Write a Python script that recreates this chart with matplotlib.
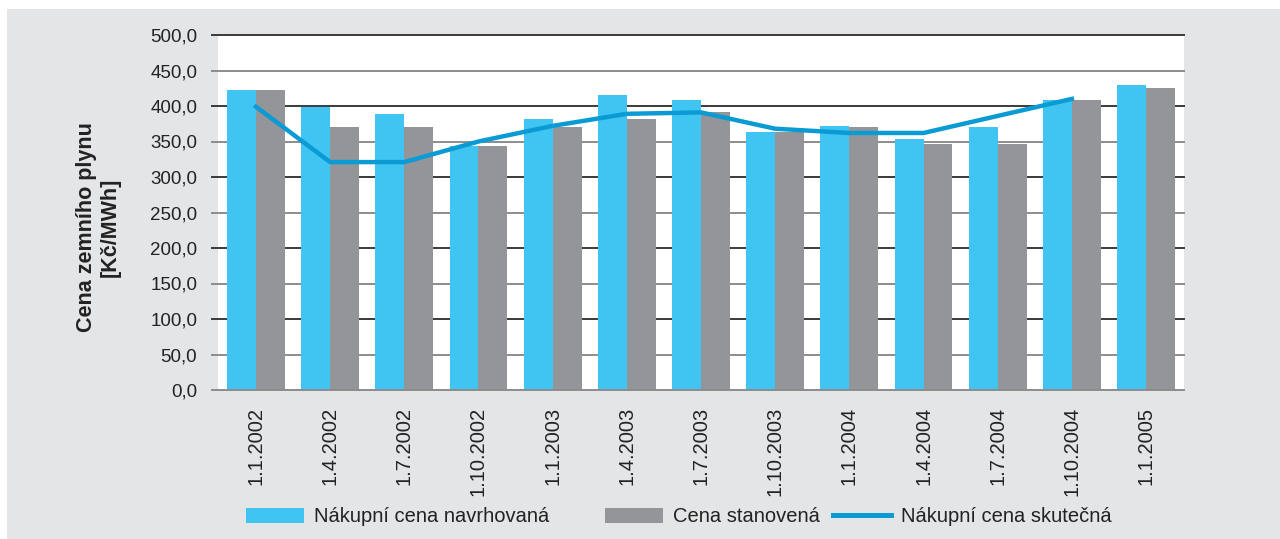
import matplotlib.pyplot as plt
import numpy as np
from matplotlib.lines import Line2D
from matplotlib.patches import Patch, Rectangle

plt.rcParams["font.family"] = ["Liberation Sans", "DejaVu Sans"]

# data
dates = ["1.1.2002", "1.4.2002", "1.7.2002", "1.10.2002", "1.1.2003", "1.4.2003",
         "1.7.2003", "1.10.2003", "1.1.2004", "1.4.2004", "1.7.2004", "1.10.2004",
         "1.1.2005"]
navrhovana = [422, 398, 389, 344, 381, 416, 408, 363, 372, 354, 371, 409, 430]
stanovena = [422, 370, 370, 343, 370, 382, 392, 364, 371, 347, 347, 409, 426]
skutecna = [399, 321, 321, 350, 372, 389, 391, 368, 362, 362, 386, 410, None]

yticks = np.arange(0, 501, 50)

CYAN = "#40c5f2"
GRAY = "#939598"
LINE = "#0a9bd4"
BG = "#e4e5e7"

fig = plt.figure(figsize=(12.8, 5.39), dpi=100)
fig.patch.set_facecolor("white")
fig.add_artist(Rectangle((7 / 1280, 0), 1 - 7 / 1280, 1 - 9 / 539,
                         transform=fig.transFigure, facecolor=BG, edgecolor="none", zorder=-10))

ax = fig.add_axes([218 / 1280, 1 - 390 / 539, (1184 - 218) / 1280, 355 / 539])
ax.set_facecolor("white")

x = np.arange(len(dates))
w = 0.39
ax.bar(x - w / 2, navrhovana, width=w, color=CYAN, zorder=3)
ax.bar(x + w / 2, stanovena, width=w, color=GRAY, zorder=3)

line_y = np.array([np.nan if v is None else v for v in skutecna], dtype=float)
ax.plot(x, line_y, color=LINE, lw=3.2, zorder=4)

# grid lines run a little past the left edge, doubling as tick marks
for i, t in enumerate(yticks):
    col = "#3a3a3a" if (i % 2 == 0 and t > 0) else "#8c8c8c"
    ax.axhline(t, xmin=-6 / 966, xmax=1, color=col, lw=1.4, zorder=1 if t > 0 else 5,
               clip_on=False)

ax.set_xlim(-0.512, 12.512)
ax.set_ylim(0, 500)
for s in ax.spines.values():
    s.set_visible(False)

ax.set_yticks(yticks)
ax.set_yticklabels([f"{t:.1f}".replace(".", ",") for t in yticks])
ax.tick_params(axis="y", length=0, pad=15, labelsize=13.5, labelcolor="#222222")
ax.set_xticks(x)
ax.set_xticklabels(dates, rotation=90, va="top", ha="center")
ax.tick_params(axis="x", length=0, pad=12, labelsize=14.5, labelcolor="#222222")

fig.text(98.5 / 1280, 1 - 227 / 539, "Cena zemního plynu\n[Kč/MWh]", rotation=90,
         ha="center", va="center", multialignment="center", fontsize=15.5,
         fontweight="bold", color="#222222", linespacing=1.15)

# legend, one item each so spacing follows the reference
items = [
    (Patch(facecolor=CYAN, edgecolor="none"), "Nákupní cena navrhovaná", 246),
    (Patch(facecolor=GRAY, edgecolor="none"), "Cena stanovená", 605),
    (Line2D([], [], color=LINE, lw=3.6), "Nákupní cena skutečná", 833),
]
for handle, label, px in items:
    leg = fig.legend(handles=[handle], labels=[label], loc="center left",
                     bbox_to_anchor=(px / 1280, 1 - 517 / 539), frameon=False,
                     borderpad=0, borderaxespad=0, handlelength=2.9,
                     handleheight=0.7, handletextpad=0.5, fontsize=14.5)
    for t in leg.get_texts():
        t.set_color("#222222")

fig.savefig("out.png", dpi=100, facecolor=fig.get_facecolor())
